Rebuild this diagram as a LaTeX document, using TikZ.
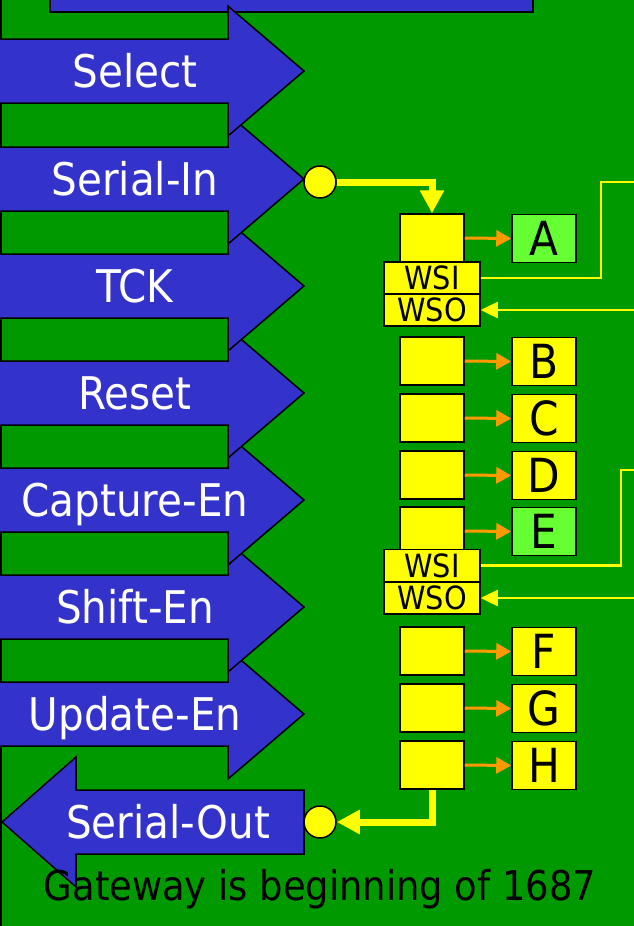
\documentclass[tikz,border=0pt]{standalone}
\usepackage{fontspec}
\setmainfont{DejaVu Sans Condensed}
\usetikzlibrary{arrows.meta}
\definecolor{bg}{HTML}{009900}
\definecolor{arrblue}{HTML}{3333CC}
\definecolor{cellyel}{HTML}{FFFF00}
\definecolor{boxgreen}{HTML}{66FF33}
\definecolor{orng}{HTML}{FF9900}
\begin{document}
\begin{tikzpicture}[x=1pt,y=-1pt,
  sigarrow/.style={fill=arrblue,draw=black,line width=1.5pt,line join=miter},
  siglabel/.style={text=white,font=\fontsize{45}{54}\selectfont,text height=33pt,text depth=0pt,inner sep=0pt},
  cellbox/.style={draw=black,fill=cellyel,line width=1.5pt,minimum width=64pt,minimum height=48pt,inner sep=0pt},
  outbox/.style={cellbox,font=\fontsize{47}{56}\selectfont,text height=34pt,text depth=0pt},
  wbox/.style={draw=black,fill=cellyel,line width=1.5pt,minimum width=96pt,minimum height=32pt,inner sep=0pt,font=\fontsize{32}{38}\selectfont,text height=23pt,text depth=0pt},
  dot/.style={circle,draw=black,fill=cellyel,line width=1.5pt,minimum size=32pt,inner sep=0pt},
  mainflow/.style={draw=cellyel,line width=7pt,line join=miter,-{Triangle[length=23pt,width=23pt]}},
  thinflow/.style={draw=cellyel,line width=2.5pt,line join=miter},
  bitflow/.style={draw=orng,line width=3pt,-{Triangle[length=15pt,width=16pt]}},
  notetext/.style={font=\fontsize{41}{48}\selectfont,text height=30pt,text depth=0pt,inner sep=0pt}
]
\useasboundingbox (0,0) rectangle (634,926);
\fill[bg] (0,0) rectangle (634,926);
\draw[black,line width=2pt] (1,0) -- (1,926);
% top bar
\draw[sigarrow] (50,-10) rectangle (533,12);
% input arrows (lower ones first, upper ones drawn on top)
\foreach \c/\t/\n in {714/Update-En/upd,607/Shift-En/shf,500/Capture-En/cap,393/Reset/rst,286/TCK/tck,179/Serial-In/sin,71/Select/sel}{
  \draw[sigarrow] (-5,\c-32) -- (228,\c-32) -- (228,\c-65) -- (304,\c) -- (228,\c+65) -- (228,\c+32) -- (-5,\c+32) -- cycle;
  \node[siglabel] (\n) at (135,\c) {\t};
}
% output arrow
\draw[sigarrow] (304,790) -- (76,790) -- (76,757) -- (2,822) -- (76,887) -- (76,854) -- (304,854) -- cycle;
\node[siglabel] (sout) at (168,822) {Serial-Out};
% dots
\node[dot] (sind) at (320,182) {};
\node[dot] (soutd) at (320,822) {};
% cells and outputs
\foreach \t/\n/\l/\f in {214/1/A/boxgreen,337/2/B/cellyel,394/3/C/cellyel,451/4/D/cellyel,507/5/E/boxgreen,627/6/F/cellyel,684/7/G/cellyel,741/8/H/cellyel}{
  \node[cellbox] (c\n) at (432,\t+24) {};
  \node[outbox,fill=\f] (o\n) at (544,\t+24.5) {\l};
  \draw[bitflow] (c\n.east) -- (o\n.west);
}
\node[wbox] (wsi1) at (432,278) {WSI};
\node[wbox] (wso1) at (432,310) {WSO};
\node[wbox] (wsi2) at (432,565.5) {WSI};
\node[wbox] (wso2) at (432,598) {WSO};
% serial path
\draw[mainflow] (sind.east) -| (c1.north);
\draw[mainflow] (c8.south) |- (soutd.east);
% wrapper lines
\coordinate (r1) at (636,182);
\coordinate (r2) at (636,310);
\coordinate (r3) at (636,470);
\coordinate (r4) at (636,598);
\draw[thinflow] (wsi1.east) -- ++(120,0) |- (r1);
\draw[thinflow,-{Triangle[length=17pt,width=16pt]}] (r2) -- (wso1.east);
\draw[thinflow] (wsi2.east) -- ++(140,0) |- (r3);
\draw[thinflow,-{Triangle[length=17pt,width=16pt]}] (r4) -- (wso2.east);
% note
\node[notetext] (note) at (320,885) {Gateway is beginning of 1687};
\end{tikzpicture}
\end{document}
